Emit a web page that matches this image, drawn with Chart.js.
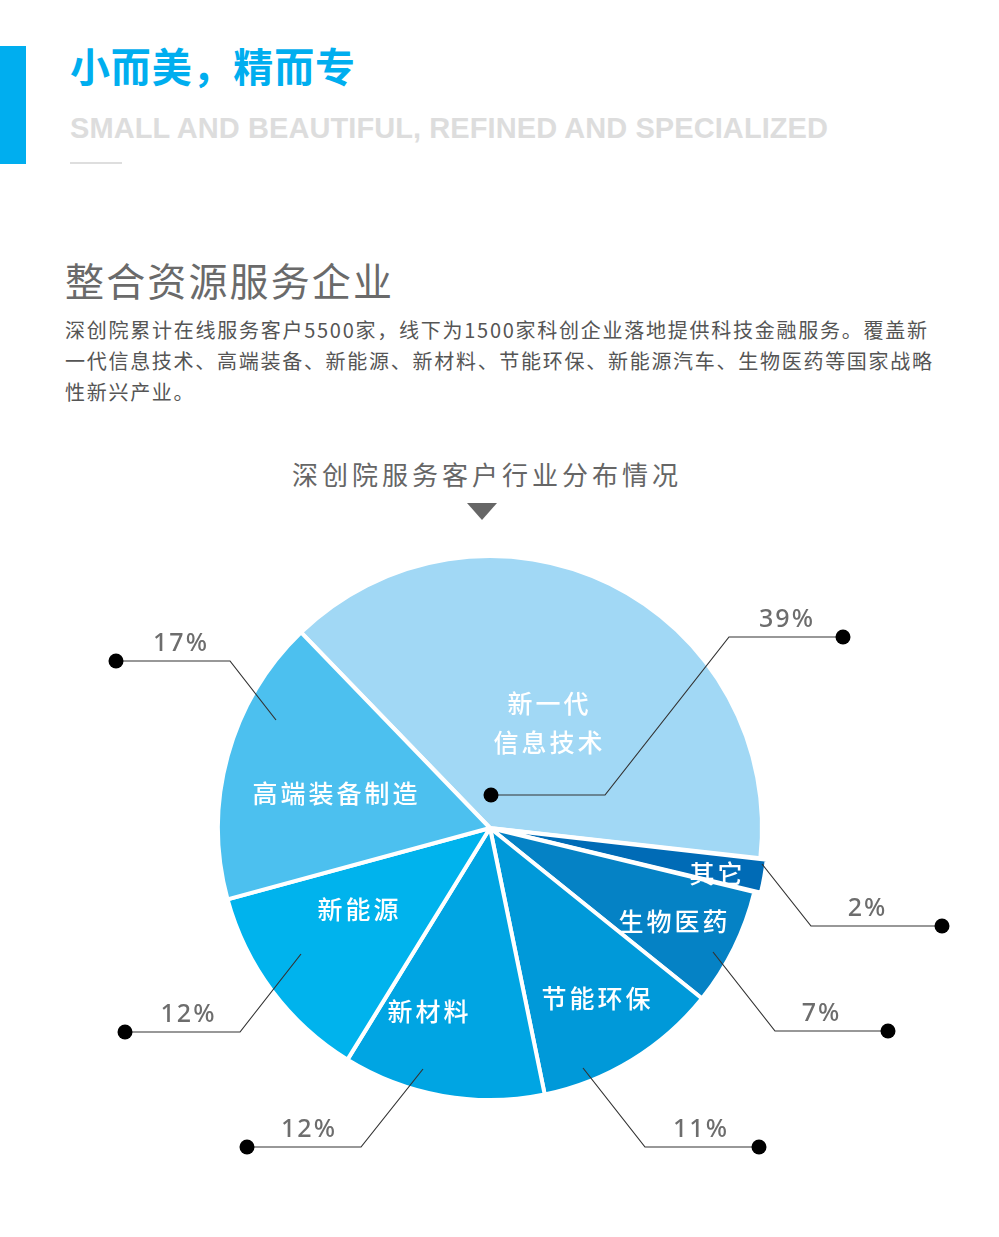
<!DOCTYPE html>
<html>
<head>
<meta charset="utf-8">
<script src="https://cdn.jsdelivr.net/npm/chart.js@4.4.1/dist/chart.umd.min.js"></script>
<style>
  html, body { margin: 0; padding: 0; background: #fff; }
  body { width: 999px; height: 1237px; position: relative; overflow: hidden;
         font-family: 'Noto Sans CJK SC', 'Noto Sans', sans-serif; }
  .abs { position: absolute; white-space: nowrap; }
  #bar { left: 0; top: 46px; width: 26px; height: 118px; background: #00aeef; }
  #title { left: 70px; top: 45px; font-size: 40px; line-height: 40px; font-weight: 700; color: #00aeef; }
  #sub { left: 70px; top: 113px; font-family: 'Liberation Sans', sans-serif; font-size: 29px; line-height: 29px;
         font-weight: 700; color: #dddddd; transform: scaleY(1.04); transform-origin: 0 0; }
  #rule { left: 70px; top: 162px; width: 52px; height: 2px; background: #dedede; }
  #heading { left: 65px; top: 260px; font-size: 39px; line-height: 39px; color: #6a6a6a; }
  .para { left: 65px; font-size: 20px; line-height: 20px; color: #555; }
  #chartTitle { left: 292px; top: 461px; font-size: 26px; line-height: 26px; color: #666; }
  #tri { left: 467px; top: 503px; width: 0; height: 0;
         border-left: 15px solid transparent; border-right: 15px solid transparent; border-top: 17px solid #666; }
  #pieBox { position: absolute; left: 0; top: 428px; width: 980px; height: 800px; }
</style>
</head>
<body>
<div class="abs" id="bar"></div>
<div class="abs fit" id="title" data-w="285">小而美，精而专</div>
<div class="abs fit" id="sub" data-w="758">SMALL AND BEAUTIFUL, REFINED AND SPECIALIZED</div>
<div class="abs" id="rule"></div>
<div class="abs fit" id="heading" data-w="327">整合资源服务企业</div>
<div class="abs para fit" id="p1" style="top:320px" data-w="862">深创院累计在线服务客户5500家，线下为1500家科创企业落地提供科技金融服务。覆盖新</div>
<div class="abs para fit" id="p2" style="top:351px" data-w="867">一代信息技术、高端装备、新能源、新材料、节能环保、新能源汽车、生物医药等国家战略</div>
<div class="abs para" id="p3" style="top:382px">性新兴产业。</div>
<div class="abs fit" id="chartTitle" data-w="386">深创院服务客户行业分布情况</div>
<div class="abs" id="tri"></div>
<div id="pieBox"><canvas id="pie" width="980" height="800"></canvas></div>

<script>
// ── DATA ──
const categories = ['新一代信息技术', '其它', '生物医药', '节能环保', '新材料', '新能源', '高端装备制造'];
const shares     = [39, 2, 7, 11, 12, 12, 17];
const sliceColors = ['#a1d8f5', '#006bb6', '#0582c5', '#0099d9', '#00a5e3', '#00b3ed', '#4cc0ef'];
const innerLines = [['新一代', '信息技术'], ['其它'], ['生物医药'], ['节能环保'], ['新材料'], ['新能源'], ['高端装备制造']];
const explode    = [0, 14, 0, 0, 0, 0, 0];

// label anchors, relative to the pie centre
const LABEL_POS = [[58, -105], [226, 45], [183, 93], [106, 170], [-62, 183], [-132, 81], [-155, -35]];

// callout: start point (relative to centre), then relative segments
const CALLOUTS = [
  { from: [1, -33],    path: [[114, 0], [124, -158], [114, 0]], startDot: true, dx: 0 },
  { from: [272, 36],   path: [[49, 62], [131, 0]],   dx: -10 },
  { from: [223, 124],  path: [[62, 79], [113, 0]],   dx: -11 },
  { from: [93, 240],   path: [[62, 79], [114, 0]],   dx: -2 },
  { from: [-67, 241],  path: [[-62, 78], [-114, 0]], dx: 4 },
  { from: [-189, 126], path: [[-61, 78], [-115, 0]], dx: 5 },
  { from: [-214, -108],path: [[-46, -59], [-114, 0]],dx: 7 },
];

// ── FIT TEXT WIDTHS ──
document.querySelectorAll('.fit').forEach(el => {
  const target = +el.dataset.w;
  const n = [...el.textContent].length;
  const w = el.getBoundingClientRect().width;
  const ls = (target - w) / (n - 1);
  el.style.letterSpacing = ls + 'px';
  if (el.id === 'p2') document.getElementById('p3').style.letterSpacing = ls + 'px';
});

// ── CALLOUT / LABEL PLUGIN ──
const calloutPlugin = {
  id: 'callouts',
  afterDatasetsDraw(chart) {
    const ctx = chart.ctx;
    const arcs = chart.getDatasetMeta(0).data;
    ctx.save();
    arcs.forEach((arc, i) => {
      const cx = arc.x, cy = arc.y;

      // white inner label
      ctx.fillStyle = '#fff';
      ctx.font = '500 25px "Noto Sans CJK SC"';
      ctx.textAlign = 'center';
      ctx.textBaseline = 'middle';
      ctx.letterSpacing = '3px';
      const lines = innerLines[i];
      const [lx, ly] = LABEL_POS[i];
      lines.forEach((t, k) => {
        const off = (k - (lines.length - 1) / 2) * 39;
        ctx.fillText(t, cx + lx + 1.5, cy + ly + off);
      });

      // callout line
      const c = CALLOUTS[i];
      let x = cx + c.from[0], y = cy + c.from[1];
      const pts = [[x, y]];
      c.path.forEach(([dx, dy]) => { x += dx; y += dy; pts.push([x, y]); });
      ctx.strokeStyle = '#333';
      ctx.lineWidth = 1.2;
      ctx.beginPath();
      pts.forEach(([px, py], k) => k ? ctx.lineTo(px, py) : ctx.moveTo(px, py));
      ctx.stroke();

      ctx.fillStyle = '#000';
      const dots = c.startDot ? [pts[0], pts[pts.length - 1]] : [pts[pts.length - 1]];
      dots.forEach(([px, py]) => {
        ctx.beginPath();
        ctx.arc(px, py, 7.5, 0, Math.PI * 2);
        ctx.fill();
      });

      // percent label above the last segment
      const a = pts[pts.length - 2], b = pts[pts.length - 1];
      ctx.fillStyle = '#6d6d6d';
      ctx.font = '500 25px "Noto Sans"';
      ctx.letterSpacing = '2px';
      ctx.fillText(shares[i] + '%', (a[0] + b[0]) / 2 + c.dx + 1, a[1] - 17);
    });
    ctx.restore();
  }
};

// ── PIE ──
new Chart(document.getElementById('pie').getContext('2d'), {
  type: 'pie',
  data: {
    labels: categories,
    datasets: [{
      data: shares,
      backgroundColor: sliceColors,
      borderColor: '#fff',
      borderWidth: 4,
      offset: explode,
      hoverOffset: 0,
    }],
  },
  options: {
    responsive: false,
    animation: false,
    rotation: -44,
    radius: 272,
    layout: { padding: 0 },
    events: [],
    plugins: {
      legend: { display: false },
      tooltip: { enabled: false },
    },
  },
  plugins: [calloutPlugin],
});
</script>
</body>
</html>
